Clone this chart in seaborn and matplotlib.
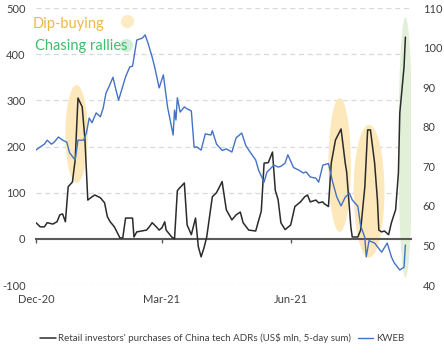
import matplotlib
matplotlib.use('Agg')
import matplotlib.pyplot as plt
import matplotlib.dates as mdates
from matplotlib.patches import Ellipse
from matplotlib.lines import Line2D
import pandas as pd
import seaborn as sns

# retail purchases of China tech ADRs (US$ mln, 5-day sum), left axis
retail_dates = [
    '2020-12-01', '2020-12-04', '2020-12-07', '2020-12-09', '2020-12-13', '2020-12-16', '2020-12-18',
    '2020-12-20', '2020-12-22', '2020-12-24', '2020-12-27', '2020-12-29', '2020-12-31',
    '2021-01-03', '2021-01-05', '2021-01-07', '2021-01-10', '2021-01-12', '2021-01-16', '2021-01-19',
    '2021-01-21', '2021-01-23', '2021-01-26', '2021-01-30',
    '2021-02-01', '2021-02-03', '2021-02-08', '2021-02-09', '2021-02-11', '2021-02-18', '2021-02-20',
    '2021-02-22', '2021-02-25', '2021-02-27',
    '2021-03-01', '2021-03-03', '2021-03-04', '2021-03-08', '2021-03-10', '2021-03-12', '2021-03-13',
    '2021-03-17', '2021-03-19', '2021-03-22', '2021-03-25', '2021-03-27', '2021-03-29', '2021-03-31',
    '2021-04-02', '2021-04-06', '2021-04-09', '2021-04-13', '2021-04-16', '2021-04-20', '2021-04-23',
    '2021-04-26', '2021-04-28',
    '2021-05-02', '2021-05-07', '2021-05-11', '2021-05-13', '2021-05-16', '2021-05-19', '2021-05-21',
    '2021-05-23', '2021-05-25', '2021-05-28',
    '2021-06-01', '2021-06-04', '2021-06-08', '2021-06-11', '2021-06-13', '2021-06-15', '2021-06-19',
    '2021-06-21', '2021-06-24', '2021-06-25', '2021-06-28', '2021-06-30',
    '2021-07-03', '2021-07-07', '2021-07-10', '2021-07-11', '2021-07-14', '2021-07-15', '2021-07-19',
    '2021-07-21', '2021-07-24', '2021-07-26', '2021-07-28', '2021-07-31',
    '2021-08-02', '2021-08-03', '2021-08-05', '2021-08-07', '2021-08-10', '2021-08-12', '2021-08-15',
    '2021-08-17', '2021-08-18', '2021-08-21', '2021-08-22',
]
retail_values = [
    35, 26, 26, 35, 32, 37, 52, 54, 37, 113, 123, 171, 305,
    286, 214, 84, 91, 95, 89, 78, 48, 37, 26, 2,
    2, 45, 45, 4, 15, 19, 26, 35, 26, 19,
    24, 37, 19, 4, 0, 104, 108, 121, 30, 9, 45, -17, -39, -20,
    4, 91, 100, 124, 63, 41, 52, 58, 35,
    19, 17, 60, 164, 165, 188, 105, 85, 35, 20,
    30, 70, 80, 91, 95, 80, 84, 78, 80, 76, 70, 164,
    214, 238, 164, 145, 26, 4, 4, 19, 113, 236, 236, 164,
    84, 19, 15, 17, 9, 35, 63, 143, 273, 372, 437,
]

# KWEB price, right axis
kweb_dates = [
    '2020-12-01', '2020-12-04', '2020-12-07', '2020-12-09', '2020-12-12', '2020-12-14', '2020-12-17',
    '2020-12-20', '2020-12-23', '2020-12-25', '2020-12-29', '2020-12-31',
    '2021-01-04', '2021-01-06', '2021-01-08', '2021-01-10', '2021-01-13', '2021-01-16', '2021-01-18',
    '2021-01-20', '2021-01-22', '2021-01-25', '2021-01-27', '2021-01-29',
    '2021-02-03', '2021-02-06', '2021-02-08', '2021-02-11', '2021-02-15', '2021-02-17', '2021-02-19',
    '2021-02-22', '2021-02-24', '2021-02-27',
    '2021-03-02', '2021-03-05', '2021-03-09', '2021-03-10', '2021-03-11', '2021-03-12', '2021-03-14',
    '2021-03-17', '2021-03-19', '2021-03-22', '2021-03-24', '2021-03-26', '2021-03-29',
    '2021-04-01', '2021-04-05', '2021-04-06', '2021-04-09', '2021-04-13', '2021-04-16', '2021-04-20',
    '2021-04-23', '2021-04-27', '2021-04-30',
    '2021-05-03', '2021-05-07', '2021-05-09', '2021-05-13', '2021-05-15', '2021-05-20', '2021-05-23',
    '2021-05-25', '2021-05-28', '2021-05-30',
    '2021-06-03', '2021-06-07', '2021-06-10', '2021-06-12', '2021-06-15', '2021-06-19', '2021-06-21',
    '2021-06-24', '2021-06-28',
    '2021-07-01', '2021-07-04', '2021-07-07', '2021-07-10', '2021-07-13', '2021-07-15', '2021-07-19',
    '2021-07-21', '2021-07-24', '2021-07-25', '2021-07-27', '2021-07-31',
    '2021-08-03', '2021-08-05', '2021-08-09', '2021-08-12', '2021-08-14', '2021-08-18', '2021-08-21',
    '2021-08-22',
]
kweb_values = [
    74.1, 74.9, 75.6, 76.6, 75.6, 76.1, 77.4, 76.6, 76.1, 73.4, 71.6, 76.6,
    76.6, 78.4, 82.2, 81.0, 83.5, 82.5, 84.7, 88.5, 90.0, 92.5, 89.5, 86.7,
    92.6, 95.1, 95.3, 101.9, 102.4, 103.2, 101.2, 97.6, 94.8, 89.8,
    93.1, 85.0, 77.9, 84.2, 81.7, 87.3, 83.7, 85.0, 84.5, 84.0, 74.8, 74.9, 74.1,
    78.2, 77.9, 79.0, 75.6, 74.0, 74.4, 73.6, 77.2, 78.4, 75.2,
    73.6, 71.6, 69.1, 66.0, 68.5, 70.3, 69.8, 70.0, 70.8, 72.9,
    69.7, 69.0, 68.3, 68.6, 67.3, 67.0, 66.0, 70.3, 70.7,
    66.0, 62.2, 60.0, 62.2, 63.2, 61.5, 59.9, 55.0, 52.0, 47.1, 51.2, 50.6,
    49.2, 48.3, 50.6, 47.1, 45.6, 43.8, 44.5, 50.1,
]

left_ticks = [-100, 0, 100, 200, 300, 400, 500]
right_ticks = [40, 50, 60, 70, 80, 90, 100, 110]

# highlight episodes: (centre date, centre value, width days, height, kind)
highlights = [
    ('2020-12-30', 227, 16, 212, 'dip'),
    ('2021-07-06', 160, 16, 290, 'dip'),
    ('2021-07-27', 103, 22, 288, 'dip'),
    ('2021-08-22', 198, 10, 565, 'chase'),
]

DIP_FILL = '#FCE8BA'
CHASE_FILL = '#E2F0D9'
TEXT = '#404040'

sns.set_style('white')
plt.rcParams['font.family'] = ['Lato', 'DejaVu Sans']
plt.rcParams['axes.unicode_minus'] = False

retail = pd.DataFrame({'date': pd.to_datetime(retail_dates), 'value': retail_values})
kweb = pd.DataFrame({'date': pd.to_datetime(kweb_dates), 'value': kweb_values})

fig = plt.figure(figsize=(4.44, 3.53), dpi=100)
ax = fig.add_axes([0.0811, 0.1926, 0.8446, 0.7847])
ax2 = ax.twinx()

# dashed guide lines at the left-axis ticks
for t in left_ticks:
    if t != 0:
        ax.axhline(t, color='#d9d9d9', lw=0.9, ls=(0, (4, 3)), zorder=0.5)

for d, v, w, h, kind in highlights:
    ax.add_patch(Ellipse((mdates.date2num(pd.Timestamp(d)), v), w, h,
                         facecolor=DIP_FILL if kind == 'dip' else CHASE_FILL,
                         edgecolor='none', zorder=1))

sns.lineplot(data=retail, x='date', y='value', ax=ax, color='#2b2b2b', lw=1.1, zorder=3)
sns.lineplot(data=kweb, x='date', y='value', ax=ax2, color='#4472C4', lw=1.0, zorder=3)

ax.set_xlim(pd.Timestamp('2020-12-01'), pd.Timestamp('2021-08-26'))
ax.set_ylim(-100, 500)
ax2.set_ylim(40, 110)
ax.set_yticks(left_ticks)
ax2.set_yticks(right_ticks)
ax.set_xlabel('')
ax.set_ylabel('')
ax2.set_ylabel('')

for s in ['left', 'right', 'top']:
    ax.spines[s].set_visible(False)
    ax2.spines[s].set_visible(False)
ax2.spines['bottom'].set_visible(False)
ax.spines['bottom'].set_position(('data', 0))
ax.spines['bottom'].set_color('#595959')
ax.spines['bottom'].set_linewidth(1.5)
ax.spines['bottom'].set_zorder(2)

ax.xaxis.set_major_locator(mdates.MonthLocator(bymonth=[3, 6, 9, 12]))
ax.xaxis.set_major_formatter(mdates.DateFormatter('%b-%y'))
ax.tick_params(axis='x', bottom=True, direction='out', length=3, width=1,
               color='#595959', pad=37, labelsize=8, labelcolor=TEXT)
ax.tick_params(axis='y', left=False, pad=4, labelsize=8, labelcolor=TEXT)
ax2.tick_params(axis='y', right=False, pad=5, labelsize=8, labelcolor=TEXT)

# episode key in the top left corner
ax.text(-0.008, 0.942, 'Dip-buying', transform=ax.transAxes, color='#EDB84A',
        fontsize=10.5, va='center', ha='left')
ax.text(-0.003, 0.862, 'Chasing rallies', transform=ax.transAxes, color='#3DBE6C',
        fontsize=10.5, va='center', ha='left')
ax.plot([0.242], [0.953], 'o', transform=ax.transAxes, ms=9.5, color='#FDEBC6',
        mec='none', clip_on=False)
ax.plot([0.239], [0.866], 'o', transform=ax.transAxes, ms=9.5, color='#D3EEDA',
        mec='none', clip_on=False)

handles = [Line2D([], [], color='#2b2b2b', lw=1.1), Line2D([], [], color='#4472C4', lw=1.0)]
labels = ["Retail investors' purchases of China tech ADRs (US$ mln, 5-day sum)", 'KWEB']
fig.legend(handles, labels, loc='center', bbox_to_anchor=(0.50, 0.0425), ncol=2,
           frameon=False, fontsize=7, handlelength=1.6, handletextpad=0.25,
           columnspacing=0.7, labelcolor=TEXT)

fig.savefig('out.png', dpi=100)
